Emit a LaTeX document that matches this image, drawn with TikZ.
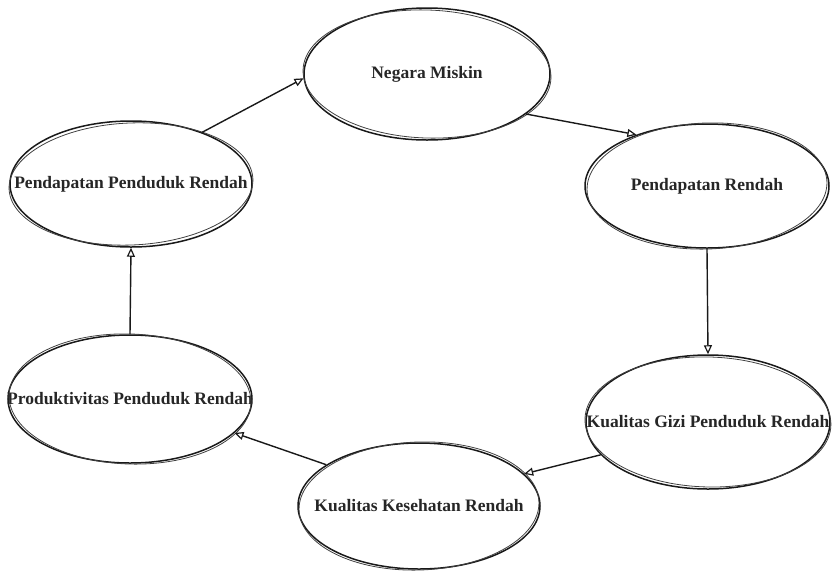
\documentclass[tikz,border=0pt]{standalone}
\usepackage{fontspec}
\setmainfont{Liberation Serif}
\usetikzlibrary{shapes.geometric,arrows.meta}
\tikzset{
  ell/.style={ellipse, draw=black!90, line width=1.5pt, inner sep=0pt,
    font=\fontsize{17.5}{20}\selectfont\bfseries, text=black!85},
  sketch/.style={draw=black!75, line width=0.8pt},
  arr/.style={draw=black!90, line width=1.4pt, -{Triangle[open,length=9pt,width=8pt,line width=1.2pt]}},
}
\begin{document}
\begin{tikzpicture}[x=1pt,y=-1pt]
\useasboundingbox (0,0) rectangle (833,571);
% nodes
\node[ell, minimum width=246pt, minimum height=132pt] (nm) at (427,74) {\makebox[0pt]{Negara Miskin}};
\node[ell, minimum width=244pt, minimum height=124pt] (pr) at (707,186) {\makebox[0pt]{Pendapatan Rendah}};
\node[ell, minimum width=244pt, minimum height=134pt] (kg) at (708,422) {\makebox[0pt]{Kualitas Gizi Penduduk Rendah}};
\node[ell, minimum width=242pt, minimum height=126pt] (kk) at (419,506) {\makebox[0pt]{Kualitas Kesehatan Rendah}};
\node[ell, minimum width=244pt, minimum height=128pt] (pd) at (130,399) {\makebox[0pt]{Produktivitas Penduduk Rendah}};
\node[ell, minimum width=242pt, minimum height=126pt] (pp) at (131,184) {\makebox[0pt]{Pendapatan Penduduk Rendah}};
% second sketch strokes
\draw[sketch, rotate around={-2:(nm.center)}] (nm.center) ellipse [x radius=124pt, y radius=64pt];
\draw[sketch, rotate around={2:(pr.center)}] (pr.center) ellipse [x radius=120pt, y radius=63pt];
\draw[sketch, rotate around={-1.5:(kg.center)}] (kg.center) ellipse [x radius=123pt, y radius=65pt];
\draw[sketch, rotate around={2:(kk.center)}] (kk.center) ellipse [x radius=120pt, y radius=64pt];
\draw[sketch, rotate around={-2:(pd.center)}] (pd.center) ellipse [x radius=121pt, y radius=65pt];
\draw[sketch, rotate around={2.5:(pp.center)}] (pp.center) ellipse [x radius=122pt, y radius=61pt];
% connectors
\draw[arr] (pp.36) -- (nm.182);
\draw[arr] (nm.-22) -- (pr.144);
\draw[arr] (pr.270) -- (kg.90);
\draw[arr] (kg.197) -- (kk.17);
\draw[arr] (kk.156) -- (pd.-18);
\draw[arr] (pd.90) -- (pp.270);
\end{tikzpicture}
\end{document}
